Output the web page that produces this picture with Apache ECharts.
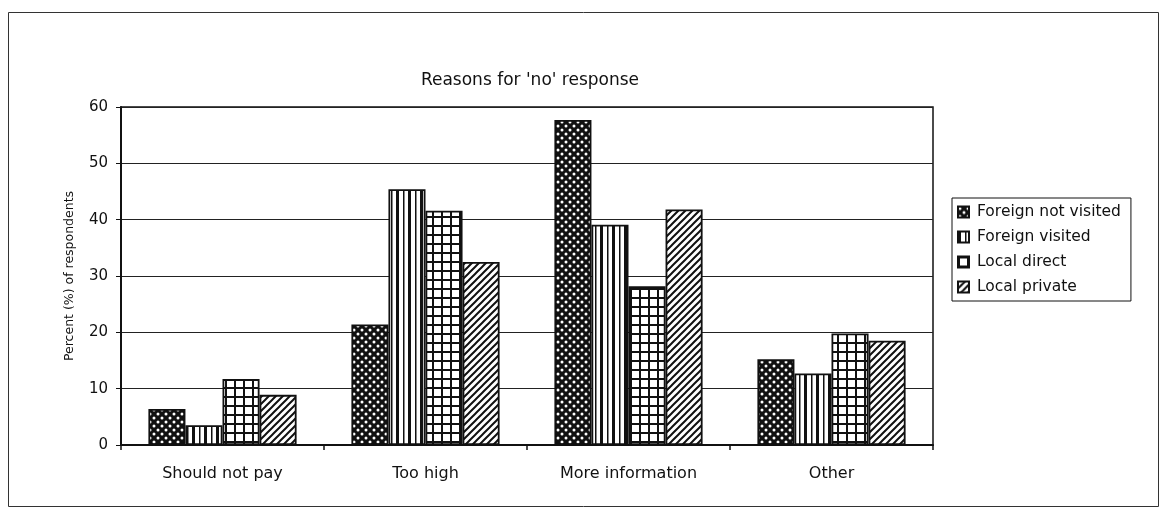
<!DOCTYPE html>
<html>
<head>
    <meta charset="UTF-8">
    <title>Reasons for 'no' response</title>
    <style>
        * { margin: 0; padding: 0; }
        html, body { width: 100%; height: 100%; background: #fff; }
        #chart { width: 1164px; height: 516px; }
    </style>
</head>
<body>
    <div id="chart"></div>
    <script src="https://cdn.jsdelivr.net/npm/echarts@6/dist/echarts.min.js"></script>
    <script>
        const categories = ['Should not pay', 'Too high', 'More information', 'Other'];
        const seriesNames = ['Foreign not visited', 'Foreign visited', 'Local direct', 'Local private'];
        const foreignNotVisited = [6.4, 21.4, 57.7, 15.2];
        const foreignVisited = [3.5, 45.4, 39.1, 12.7];
        const localDirect = [11.7, 41.6, 28.2, 19.8];
        const localPrivate = [8.9, 32.5, 41.8, 18.5];
        const yTicks = [0, 10, 20, 30, 40, 50, 60];

        // the scan is stretched sideways, so a wide face reads closer than Arial
        const FONT = '"DejaVu Sans", Verdana, sans-serif';

        // small canvases used as fill patterns (black & white, like the print)
        const makePattern = (w, h, draw) => {
            const c = document.createElement('canvas');
            c.width = w;
            c.height = h;
            const ctx = c.getContext('2d');
            ctx.fillStyle = '#fff';
            ctx.fillRect(0, 0, w, h);
            draw(ctx);
            return { image: c, repeat: 'repeat' };
        };

        const dotsPattern = makePattern(8, 8, ctx => {
            ctx.fillStyle = '#111';
            ctx.fillRect(0, 0, 8, 8);
            ctx.fillStyle = '#fff';
            [[2, 2], [6, 6]].forEach(([x, y]) => {
                ctx.beginPath();
                ctx.arc(x, y, 1.5, 0, Math.PI * 2);
                ctx.fill();
            });
        });

        const stripePattern = makePattern(12, 4, ctx => {
            ctx.fillStyle = '#111';
            ctx.fillRect(0, 0, 3, 4);
            ctx.fillRect(7, 0, 1.5, 4);
        });

        const gridPattern = makePattern(9, 9, ctx => {
            ctx.fillStyle = '#111';
            ctx.fillRect(0, 0, 9, 2);
            ctx.fillRect(0, 0, 2, 9);
        });

        const hatchPattern = makePattern(7, 7, ctx => {
            ctx.strokeStyle = '#111';
            ctx.lineWidth = 2;
            ctx.beginPath();
            ctx.moveTo(-1, 8); ctx.lineTo(8, -1);
            ctx.moveTo(-1, 1); ctx.lineTo(1, -1);
            ctx.moveTo(6, 8); ctx.lineTo(8, 6);
            ctx.stroke();
        });

        const patterns = [dotsPattern, stripePattern, gridPattern, hatchPattern];
        const seriesData = [foreignNotVisited, foreignVisited, localDirect, localPrivate];

        const chart = echarts.init(document.getElementById('chart'), null, { renderer: 'canvas' });

        chart.setOption({
            backgroundColor: '#fff',
            animation: false,
            textStyle: { fontFamily: FONT, color: '#111' },
            graphic: [{
                type: 'rect',
                shape: { x: 8.5, y: 12.5, width: 1150, height: 494 },
                style: { fill: 'none', stroke: '#333', lineWidth: 1 },
                silent: true
            }],
            title: {
                text: "Reasons for 'no' response",
                left: 525,
                top: 67,
                textAlign: 'center',
                textStyle: { fontFamily: FONT, fontSize: 17, fontWeight: 'normal', color: '#111' }
            },
            legend: {
                data: seriesNames,
                orient: 'vertical',
                left: 952,
                top: 198,
                padding: [6, 10, 6, 5],
                itemGap: 9,
                itemWidth: 11,
                itemHeight: 11,
                borderColor: '#111',
                borderWidth: 1,
                textStyle: { fontFamily: FONT, fontSize: 15.5, color: '#111', padding: [0, 0, 0, 3] },
                icon: 'rect'
            },
            grid: {
                left: 121,
                top: 107,
                right: 231,
                bottom: 71,
                show: true,
                borderColor: '#111',
                borderWidth: 1.5
            },
            xAxis: {
                type: 'category',
                data: categories,
                axisLine: { lineStyle: { color: '#111', width: 2 } },
                axisTick: { show: true, length: 5, lineStyle: { color: '#111', width: 1.5 } },
                axisLabel: { fontFamily: FONT, fontSize: 16, color: '#111', margin: 21 }
            },
            yAxis: {
                type: 'value',
                min: yTicks[0],
                max: yTicks[yTicks.length - 1],
                interval: 10,
                name: 'Percent (%) of respondents',
                nameLocation: 'middle',
                nameGap: 45,
                nameRotate: 90,
                nameTextStyle: { fontFamily: FONT, fontSize: 12.5, color: '#111' },
                axisLine: { show: true, lineStyle: { color: '#111', width: 2 } },
                axisTick: { show: true, length: 5, lineStyle: { color: '#111' } },
                axisLabel: { fontFamily: FONT, fontSize: 15, color: '#111', margin: 13 },
                splitLine: { show: true, lineStyle: { color: '#222', width: 1.2 } }
            },
            series: seriesNames.map((name, i) => ({
                name: name,
                type: 'bar',
                data: seriesData[i],
                barGap: '0%',
                barCategoryGap: '27%',
                itemStyle: {
                    color: patterns[i],
                    borderColor: '#111',
                    borderWidth: 1.8
                }
            }))
        });
    </script>
</body>
</html>
